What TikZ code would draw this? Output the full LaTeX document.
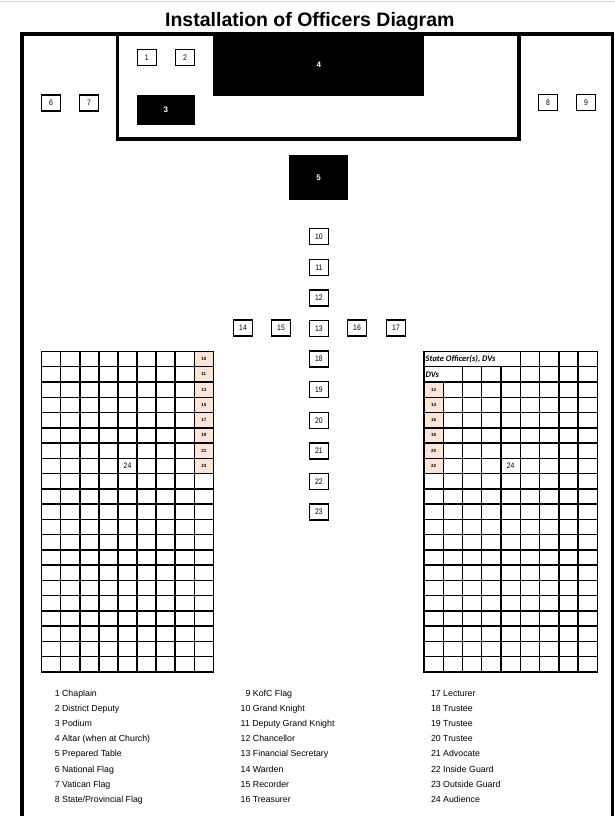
\documentclass[tikz,border=0pt]{standalone}
\usepackage{fontspec}
\setmainfont{Liberation Sans}
\newfontfamily\narrowfont[FakeStretch=0.85]{Liberation Sans}
\newfontfamily\cellfont{Carlito}
\definecolor{peach}{RGB}{252,228,214}
\tikzset{
  seat/.style={draw, line width=1.3pt, minimum width=19pt, minimum height=16pt, inner sep=0pt, font=\narrowfont\fontsize{8}{9}\selectfont},
  blackbox/.style={fill=black, text=white, inner sep=0pt, font=\bfseries\fontsize{8}{9}\selectfont},
  wall/.style={line width=3.5pt},
  gridline/.style={line width=1.4pt, line cap=rect},
  tag/.style={inner sep=0pt, font=\bfseries\fontsize{4.5}{5}\selectfont},
  legend/.style={anchor=base west, inner sep=0pt, font=\fontsize{8.8}{10}\selectfont},
}
\begin{document}
\begin{tikzpicture}[x=1pt,y=-1pt]
\useasboundingbox (0,0) rectangle (615,816);
\draw[gray!35, line width=0.8pt] (0,1) -- (615,1);
\node[anchor=base, inner sep=0pt, font=\bfseries\fontsize{19.5}{22}\selectfont] (title) at (309.8,26.7) {Installation of Officers Diagram};

% room and sanctuary
\draw[wall] (22,816) -- (22,34) -- (612.5,34) -- (612.5,816);
\draw[wall] (117.7,34) -- (117.7,139) -- (519,139) -- (519,34);

\node[blackbox, minimum width=211pt, minimum height=61.5pt] (altar) at (318.9,64.9) {4};
\node[blackbox, minimum width=58.3pt, minimum height=30pt] (podium) at (165.9,110) {3};
\node[blackbox, minimum width=58.4pt, minimum height=45pt] (table) at (318.5,177.5) {5};

\node[seat] (s1) at (146.7,57.7) {1};
\node[seat] (s2) at (185,57.7) {2};
\node[seat] (s6) at (51,103) {6};
\node[seat] (s7) at (89,103) {7};
\node[seat] (s8) at (548,102.5) {8};
\node[seat] (s9) at (586,102.5) {9};

% centre aisle
\foreach \n [count=\k from 0] in {10,11,12,13,18,19,20,21,22,23}
  \node[seat] (s\n) at (318.8,{236.7+\k*30.6}) {\n};
\node[seat] (s14) at (243,328) {14};
\node[seat] (s15) at (281,328) {15};
\node[seat] (s16) at (357,328) {16};
\node[seat] (s17) at (396,328) {17};

% left pews
\foreach \n [count=\r from 0] in {10,11,13,15,17,19,21,23} {
  \fill[peach] ({41.7+8*19.07},{351.5+\r*15.26}) rectangle ++(19.07,15.26);
  \node[tag] (lp\n) at ({41.7+8.5*19.07},{351.5+(\r+0.5)*15.26}) {\n};
}
\foreach \c in {0,...,9}
  \draw[gridline] ({41.7+\c*19.07},351.5) -- ++(0,320.5);
\foreach \r in {0,...,21}
  \draw[gridline] (41.7,{351.5+\r*15.26}) -- ++(171.6,0);
\node[inner sep=0pt, font=\narrowfont\fontsize{8}{9}\selectfont] (aud1) at (127.5,466) {24};

% right pews
\foreach \n [count=\r from 2] in {12,14,16,18,20,22} {
  \fill[peach] (424,{351.5+\r*15.26}) rectangle ++(19.26,15.26);
  \node[tag] (rp\n) at ({424+0.5*19.26},{351.5+(\r+0.5)*15.26}) {\n};
}
\foreach \c/\s in {0/0,1/2,2/1,3/1,4/1,5/0,6/0,7/0,8/0,9/0}
  \draw[gridline] ({424+\c*19.26},{351.5+\s*15.26}) -- ({424+\c*19.26},672);
\foreach \r in {0,...,21}
  \draw[gridline] (424,{351.5+\r*15.26}) -- ++(173.3,0);
\node[anchor=west, inner sep=0pt, font=\cellfont\bfseries\itshape\fontsize{8.5}{9}\selectfont] (state) at (425.5,359.1) {State Officer(s), DVs};
\node[anchor=west, inner sep=0pt, font=\cellfont\bfseries\itshape\fontsize{8.5}{9}\selectfont] (dvs) at (425.5,374.4) {DVs};
\node[inner sep=0pt, font=\narrowfont\fontsize{8}{9}\selectfont] (aud2) at (510.7,466) {24};

% key
\foreach \t [count=\k from 0] in {{1 Chaplain},{2 District Deputy},{3 Podium},{4 Altar (when at Church)},{5 Prepared Table},{6 National Flag},{7 Vatican Flag},{8 State/Provincial Flag}}
  \node[legend] (ka\k) at (54.6,{696+\k*15.2}) {\t};
\foreach \t [count=\k from 0] in {{\phantom{1}9 KofC Flag},{10 Grand Knight},{11 Deputy Grand Knight},{12 Chancellor},{13 Financial Secretary},{14 Warden},{15 Recorder},{16 Treasurer}}
  \node[legend] (kb\k) at (240.5,{696+\k*15.2}) {\t};
\foreach \t [count=\k from 0] in {{17 Lecturer},{18 Trustee},{19 Trustee},{20 Trustee},{21 Advocate},{22 Inside Guard},{23 Outside Guard},{24 Audience}}
  \node[legend] (kc\k) at (430.8,{696+\k*15.2}) {\t};
\end{tikzpicture}
\end{document}
